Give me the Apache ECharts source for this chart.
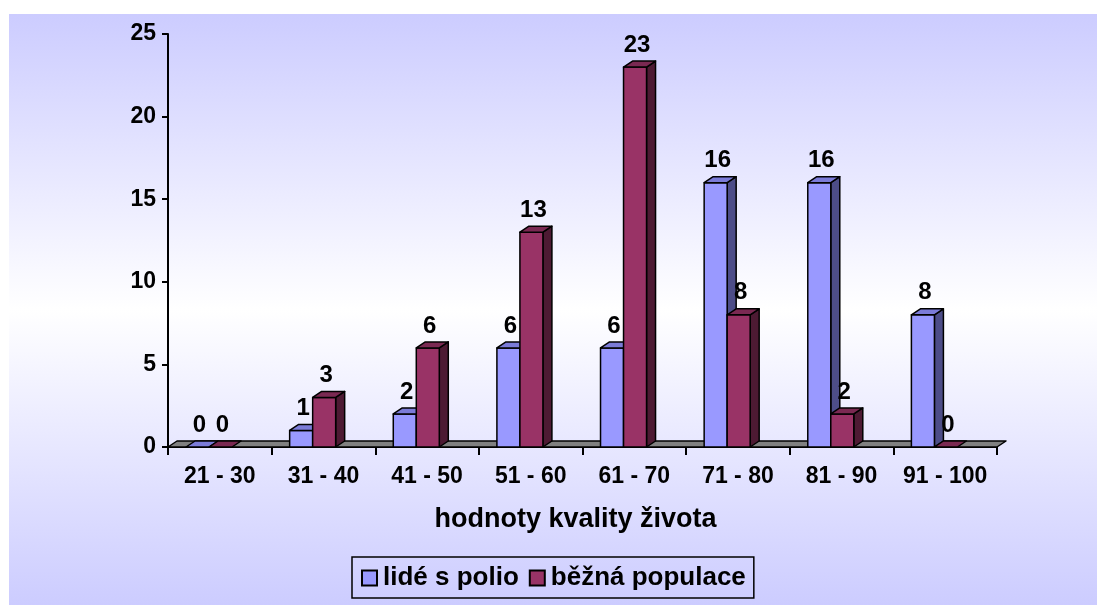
<!DOCTYPE html>
<html>
<head>
<meta charset="utf-8">
<script src="https://cdn.jsdelivr.net/npm/echarts@6/dist/echarts.min.js"></script>
<style>
  html, body { margin: 0; padding: 0; background: #ffffff; }
  #chart { width: 1097px; height: 605px; }
</style>
</head>
<body>
<div id="chart"></div>
<script>
// Quality-of-life score bands and counts for each group
const categories = ['21 - 30', '31 - 40', '41 - 50', '51 - 60', '61 - 70', '71 - 80', '81 - 90', '91 - 100'];
const polioGroup = [0, 1, 2, 6, 6, 16, 16, 8];
const generalPopulation = [0, 3, 6, 13, 23, 8, 2, 0];
const seriesNames = ['lidé s polio', 'běžná populace'];
const axisTitle = 'hodnoty kvality života';

const FONT = '"Liberation Sans", Arial, sans-serif';
const DEPTH_X = 9;   // oblique depth of the pseudo-3D boxes
const DEPTH_Y = 6;
const BAR_FRAC = 0.222;
const GROUP_START = 0.174;

const palettes = [
  { front: '#9999ff', top: '#7b7bd8', side: '#4d4d88' },
  { front: '#993366', top: '#7a2952', side: '#4d1a33' }
];

function boxRenderer(slot) {
  const pal = palettes[slot];
  return function (params, api) {
    const idx = api.value(0);
    const val = api.value(1);
    const catW = api.size([1, 0])[0];
    const base = api.coord([idx, 0]);
    const top = api.coord([idx, val]);
    const w = catW * BAR_FRAC;
    const x0 = base[0] - catW / 2 + catW * GROUP_START + slot * w;
    const x1 = x0 + w;
    const by = base[1];
    const ty = top[1];
    const stroke = { stroke: '#000', lineWidth: 1.5, lineJoin: 'round' };
    const children = [];
    if (by - ty > 0.5) {
      children.push({
        type: 'polygon',
        shape: { points: [[x1, ty], [x1 + DEPTH_X, ty - DEPTH_Y], [x1 + DEPTH_X, by - DEPTH_Y], [x1, by]] },
        style: Object.assign({ fill: pal.side }, stroke)
      });
      children.push({
        type: 'rect',
        shape: { x: x0, y: ty, width: w, height: by - ty },
        style: Object.assign({ fill: pal.front }, stroke)
      });
    }
    children.push({
      type: 'polygon',
      shape: { points: [[x0, ty], [x1, ty], [x1 + DEPTH_X, ty - DEPTH_Y], [x0 + DEPTH_X, ty - DEPTH_Y]] },
      style: Object.assign({ fill: pal.top }, stroke)
    });
    children.push({
      type: 'text',
      style: {
        text: String(val),
        x: x0 + w / 2 + 2,
        y: ty - 10,
        align: 'center',
        verticalAlign: 'bottom',
        font: 'bold 24px ' + FONT,
        fill: '#000'
      }
    });
    return { type: 'group', children: children };
  };
}

function floorRenderer(params, api) {
  const catW = api.size([1, 0])[0];
  const first = api.coord([0, 0]);
  const last = api.coord([categories.length - 1, 0]);
  const left = first[0] - catW / 2;
  const right = last[0] + catW / 2;
  const y = first[1];
  return {
    type: 'polygon',
    shape: { points: [[left, y], [right, y], [right + DEPTH_X, y - DEPTH_Y], [left + DEPTH_X, y - DEPTH_Y]] },
    style: { fill: '#808080', stroke: '#000', lineWidth: 1.5, lineJoin: 'round' }
  };
}

const chart = echarts.init(document.getElementById('chart'), null, { renderer: 'canvas' });

chart.setOption({
  animation: false,
  backgroundColor: '#ffffff',
  graphic: [{
    type: 'rect',
    left: 9, top: 14, z: -10,
    shape: { width: 1088, height: 591 },
    style: {
      fill: new echarts.graphic.LinearGradient(0, 0, 0, 1, [
        { offset: 0, color: '#ccccff' },
        { offset: 0.5, color: '#ffffff' },
        { offset: 1, color: '#ccccff' }
      ])
    }
  }],
  grid: { left: 168, right: 100, top: 34, bottom: 158 },
  legend: {
    left: 352, top: 557,
    data: seriesNames,
    borderColor: '#000', borderWidth: 1.5,
    padding: [8, 8, 7, 9],
    itemWidth: 15, itemHeight: 15, itemGap: 10,
    icon: 'rect',
    textStyle: { fontFamily: FONT, fontWeight: 'bold', fontSize: 26, color: '#000', padding: [0, 0, 0, 1] }
  },
  xAxis: {
    type: 'category',
    data: categories,
    boundaryGap: true,
    axisLine: { show: true, lineStyle: { color: '#000', width: 2 } },
    axisTick: { show: true, interval: 0, length: 8, lineStyle: { color: '#000', width: 2 } },
    axisLabel: { interval: 0, margin: 18, fontFamily: FONT, fontWeight: 'bold', fontSize: 23, color: '#000' },
    name: axisTitle,
    nameLocation: 'middle',
    nameGap: 59,
    nameTextStyle: { fontFamily: FONT, fontWeight: 'bold', fontSize: 27, color: '#000', padding: [0, 14, 0, 0] }
  },
  yAxis: {
    type: 'value',
    min: 0, max: 25, interval: 5,
    splitLine: { show: false },
    axisLine: { show: true, lineStyle: { color: '#000', width: 2 } },
    axisTick: { show: true, length: 6, lineStyle: { color: '#000', width: 2 } },
    axisLabel: { margin: 12, fontFamily: FONT, fontWeight: 'bold', fontSize: 23, color: '#000' }
  },
  series: [
    {
      type: 'custom',
      name: 'floor',
      silent: true,
      z: 1,
      renderItem: floorRenderer,
      data: [[0, 0]]
    },
    {
      type: 'custom',
      name: seriesNames[0],
      z: 2,
      itemStyle: { color: palettes[0].front, borderColor: '#000', borderWidth: 1.5 },
      renderItem: boxRenderer(0),
      data: polioGroup.map((v, i) => [i, v])
    },
    {
      type: 'custom',
      name: seriesNames[1],
      z: 3,
      itemStyle: { color: palettes[1].front, borderColor: '#000', borderWidth: 1.5 },
      renderItem: boxRenderer(1),
      data: generalPopulation.map((v, i) => [i, v])
    }
  ]
});
</script>
</body>
</html>
